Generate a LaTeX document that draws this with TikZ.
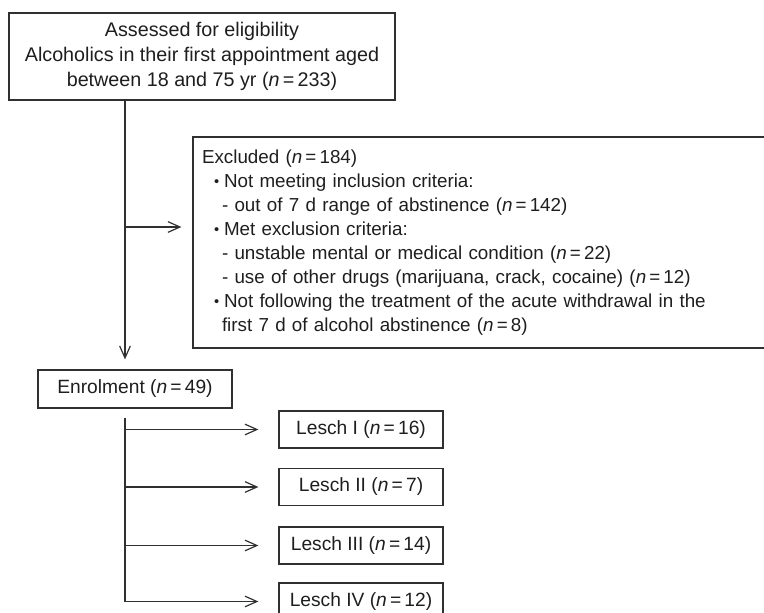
\documentclass[tikz,border=0pt]{standalone}
\usepackage{fontspec}
\setmainfont{Liberation Sans}
\usetikzlibrary{arrows.meta}
\definecolor{linec}{HTML}{303030}
\definecolor{txtc}{HTML}{1E1E1E}
\newcommand{\blt}{\hspace*{9pt}\makebox[7.5pt][l]{\raisebox{0.6pt}{\fontsize{11}{11}\selectfont •}}}
\begin{document}
\begin{tikzpicture}[x=0.75pt,y=-0.75pt,
  lbox/.style={draw=linec, line width=0.9pt, inner sep=0pt, align=center, text=txtc,
    font=\fontsize{14.4}{18.8}\selectfont},
  plain/.style={draw=linec, line width=0.9pt},
  conn/.style={plain, -{Straight Barb[length=9pt,width=8pt,line width=0.9pt]}},
  ]
\useasboundingbox (0,0) rectangle (764,613);

\node[lbox, minimum width=289.5pt, minimum height=65.25pt, font=\fontsize{14.8}{19}\selectfont] (top) at (202,56.5)
  {Assessed for eligibility\\Alcoholics in their first appointment aged\\between 18 and 75 yr (\textit{n}\,=\,233)};

\node[lbox, align=left, text width=426.75pt, minimum width=440.25pt, minimum height=158.25pt,
  font=\fontsize{14.1}{18}\selectfont] (excl) at (486.5,242.5)
  {Excluded (\textit{n}\,=\,184)\\
   \blt Not meeting inclusion criteria:\\
   \hspace*{15pt}- out of 7 d range of abstinence (\textit{n}\,=\,142)\\
   \blt Met exclusion criteria:\\
   \hspace*{15pt}- unstable mental or medical condition (\textit{n}\,=\,22)\\
   \hspace*{15pt}- use of other drugs (marijuana, crack, cocaine) (\textit{n}\,=\,12)\\
   \blt Not following the treatment of the acute withdrawal in the\\
   \hspace*{15pt}first 7 d of alcohol abstinence (\textit{n}\,=\,8)};

\node[lbox, minimum width=145.5pt, minimum height=28.5pt] (enrol) at (135,389)
  {Enrolment (\textit{n}\,=\,49)};

\node[lbox, minimum width=123pt, minimum height=27.75pt] (L1) at (361,429.5) {Lesch I (\textit{n}\,=\,16)};
\node[lbox, minimum width=123pt, minimum height=27.75pt] (L2) at (361,487) {Lesch II (\textit{n}\,=\,7)};
\node[lbox, minimum width=123pt, minimum height=27.75pt] (L3) at (361,545.5) {Lesch III (\textit{n}\,=\,14)};
\node[lbox, minimum width=123pt, minimum height=27.75pt] (L4) at (361,601.5) {Lesch IV (\textit{n}\,=\,12)};

\coordinate (trunk) at (125,0);
\coordinate (exl) at (125,227);
\coordinate (b0) at (125,418);

\draw[conn, shorten >=7.5pt] (top.south -| trunk) -- (enrol.north -| trunk);
\draw[conn, shorten >=8.25pt] (exl) -- (exl -| excl.west);

\draw[plain] (b0) -- (b0 |- L4.west);
\foreach \n in {L1,L2,L3,L4}
  \draw[conn, shorten >=15pt] (trunk |- \n.west) -- (\n.west);
\end{tikzpicture}
\end{document}
